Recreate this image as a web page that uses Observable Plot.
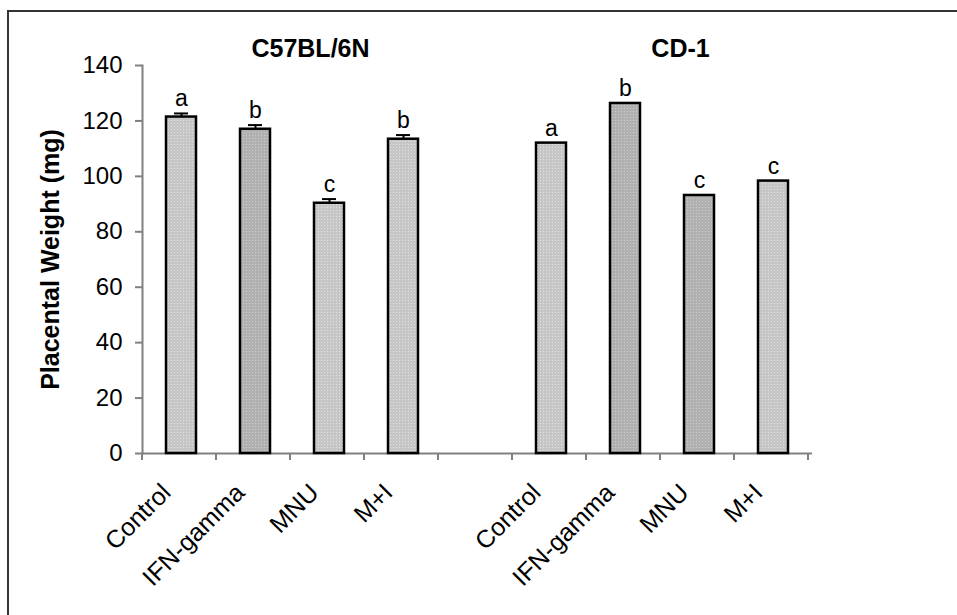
<!DOCTYPE html>
<html><head><meta charset="utf-8">
<script src="https://cdn.jsdelivr.net/npm/d3@7"></script>
<script src="https://cdn.jsdelivr.net/npm/@observablehq/plot@0.6"></script>
<style>
html,body{margin:0;padding:0;background:#fff;}
#wrap{position:relative;width:957px;height:615px;overflow:hidden;background:#fff;}
#frame{position:absolute;left:7px;top:10px;width:2000px;height:2000px;border-top:2px solid #333;border-left:2px solid #333;}
#chart{position:absolute;left:0;top:0;}
</style></head><body>
<div id="wrap"><div id="frame"></div><div id="chart"></div></div>
<script>
const strains = ["C57BL/6N", "CD-1"];
const treatments = ["Control", "IFN-gamma", "MNU", "M+I"];
const c57Means = [121.4, 117.0, 90.3, 113.4];
const c57Errors = [1.3, 1.5, 1.5, 1.5];
const c57Letters = ["a", "b", "c", "b"];
const c57Shades = ["light", "dark", "light", "light"];
const cd1Means = [112.0, 126.3, 93.1, 98.3];
const cd1Errors = [0, 0, 0, 0];
const cd1Letters = ["a", "b", "c", "c"];
const cd1Shades = ["light", "dark", "dark", "light"];
const yTicks = [0, 20, 40, 60, 80, 100, 120, 140];
const yLabel = "Placental Weight (mg)";

const series = [
  {strain: strains[0], means: c57Means, errs: c57Errors, letters: c57Letters, shades: c57Shades},
  {strain: strains[1], means: cd1Means, errs: cd1Errors, letters: cd1Letters, shades: cd1Shades}
];
const domain = [];
const bars = [];
series.forEach((s, si) => {
  if (si > 0) domain.push("gap");
  treatments.forEach((t, i) => {
    const key = s.strain + "|" + t;
    domain.push(key);
    bars.push({key, strain: s.strain, treatment: t, mean: s.means[i], err: s.errs[i], letter: s.letters[i], shade: s.shades[i]});
  });
});
const errBars = bars.filter(d => d.err > 0);
const titles = strains.map(s => ({name: s, key: s + "|MNU"}));
const fmt = d => (d.split("|")[1] || "");

const font = "'Liberation Sans', Arial, sans-serif";
const plot = Plot.plot({
  width: 957, height: 615,
  marginLeft: 142, marginRight: 145, marginTop: 65, marginBottom: 162,
  style: {fontFamily: font, background: "transparent", overflow: "visible", color: "black"},
  x: {domain, padding: 0, tickFormat: fmt},
  y: {domain: [0, 140]},
  color: {type: "identity"},
  marks: [
    Plot.axisY({ticks: yTicks, tickSize: 7, tickPadding: 13, fontSize: 24, stroke: "#808080", strokeWidth: 2, fill: "black", label: null}),
    Plot.axisX({tickSize: 0, tickRotate: -45, tickPadding: 30, tickFormat: fmt, fontSize: 25, dx: -15, dy: 5, fill: "black", label: null}),
    Plot.frame({anchor: "left", stroke: "#808080", strokeWidth: 2}),
    Plot.ruleY([0], {stroke: "#808080", strokeWidth: 2}),
    Plot.barY(bars, {x: "key", y: "mean", fill: d => `url(#pat-${d.shade})`, stroke: "black", strokeWidth: 2.5, insetLeft: 22, insetRight: 22}),
    Plot.ruleX(errBars, {x: "key", y1: "mean", y2: d => d.mean + d.err, stroke: "black", strokeWidth: 2}),
    Plot.tickY(errBars, {x: "key", y: d => d.mean + d.err, stroke: "black", strokeWidth: 2, insetLeft: 30, insetRight: 30}),
    Plot.text(bars, {x: "key", y: d => d.mean + d.err, text: "letter", dy: -7, lineAnchor: "bottom", fontSize: 23, fill: "black"}),
    Plot.text(titles, {x: "key", y: () => 140, text: "name", dx: -19, dy: -9, lineAnchor: "bottom", fontSize: 25, fontWeight: "bold", fill: "black"}),
    Plot.text([yLabel], {frameAnchor: "left", text: d => d, rotate: -90, dx: -92, textAnchor: "middle", lineAnchor: "middle", fontSize: 25, fontWeight: "bold", fill: "black"})
  ]
});

// patterns
const svg = d3.select(plot);
const defs = svg.insert("defs", ":first-child");
[["light", "#c6c6c6", "#e2e2e2"], ["dark", "#b0b0b0", "#cdcdcd"]].forEach(([id, base, dot]) => {
  const p = defs.append("pattern").attr("id", "pat-" + id).attr("patternUnits", "userSpaceOnUse").attr("width", 3).attr("height", 3);
  p.append("rect").attr("width", 3).attr("height", 3).attr("fill", base);
  p.append("rect").attr("width", 1).attr("height", 1).attr("fill", dot);
});

// x-axis category boundary ticks
const xs = plot.scale("x");
const y0 = plot.scale("y").apply(0);
const g = svg.append("g").attr("stroke", "#808080").attr("stroke-width", 2);
for (let i = 0; i <= domain.length; i++) {
  const x = xs.range[0] + i * xs.step;
  g.append("line").attr("x1", x).attr("x2", x).attr("y1", y0).attr("y2", y0 + 7);
}

document.getElementById("chart").appendChild(plot);
</script>
</body></html>
